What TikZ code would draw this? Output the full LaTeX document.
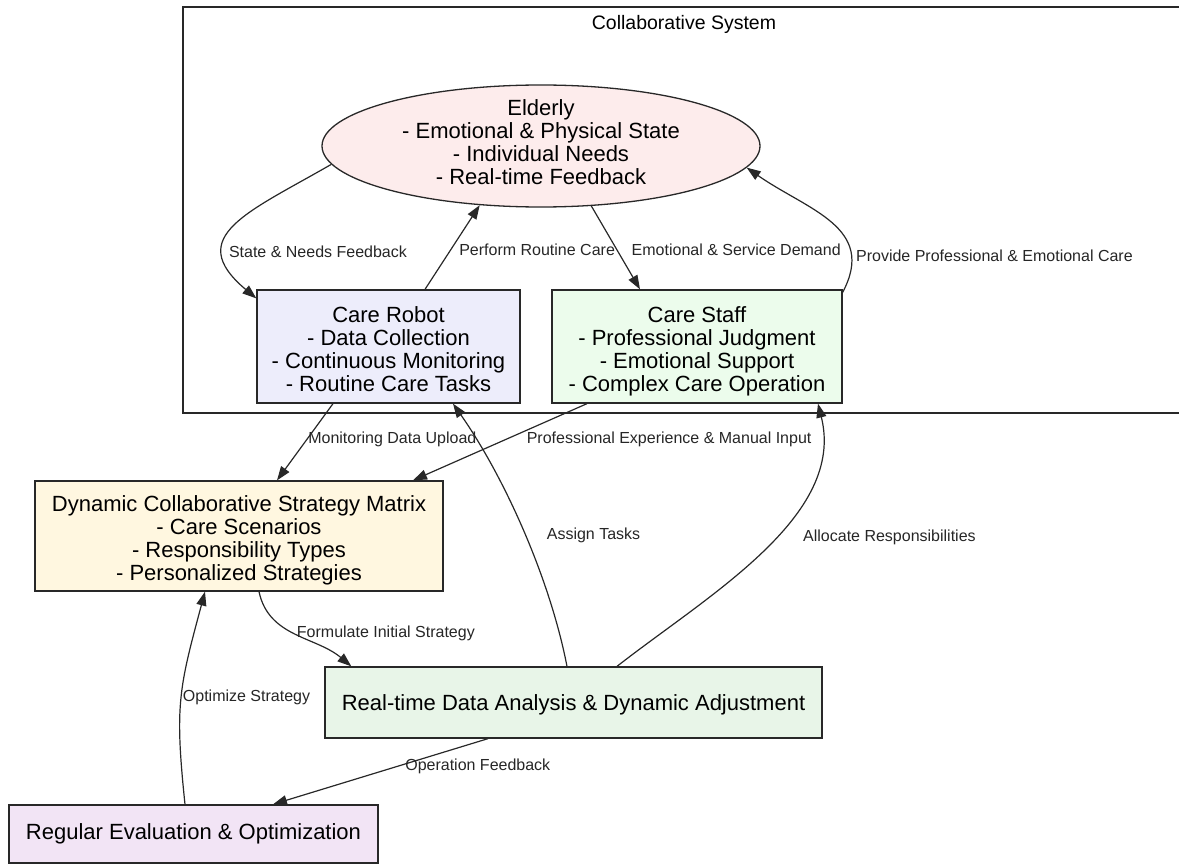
\documentclass[tikz,border=0pt]{standalone}
\usepackage{fontspec}
\setmainfont{Liberation Sans}
\usepackage{tikz}
\usetikzlibrary{arrows.meta}
\usetikzlibrary{shapes.geometric}
\definecolor{elderpink}{RGB}{253,236,236}
\definecolor{robotblue}{RGB}{237,237,251}
\definecolor{staffgreen}{RGB}{236,252,236}
\definecolor{matrixyellow}{RGB}{255,247,224}
\definecolor{adjustgreen}{RGB}{232,245,232}
\definecolor{evalpurple}{RGB}{242,228,245}
\definecolor{edgegray}{RGB}{40,40,40}
\newcommand{\topstrut}[1]{\rule{0pt}{#1}}
\newcommand{\botstrut}[1]{\rule[-#1]{0pt}{#1}}

\begin{document}
\begin{tikzpicture}[x=1pt,y=-1pt,
		box/.style={draw=edgegray,line width=1.3pt,align=center,inner sep=0pt,font=\fontsize{22}{23}\selectfont},
		lbl/.style={font=\fontsize{16}{18}\selectfont,inner sep=0pt,anchor=west,text=black!85},
		arr/.style={line width=1.2pt,edgegray,-{Triangle[length=14pt,width=10pt]}}]
				\clip (0,0) rectangle (1179,864);
				\draw[line width=1.3pt,edgegray] (183,7) rectangle (1210,413);
				\node[font=\fontsize{19.5}{21}\selectfont] (syslabel) at (684,24) {Collaborative System};
				\node[box,ellipse,fill=elderpink,minimum width=438pt,minimum height=122pt,inner ysep=-8pt] (eld) at (541,146)
					{Elderly\\- Emotional \& Physical State\\- Individual Needs\\- Real-time Feedback\botstrut{8pt}};
				\node[box,fill=robotblue,minimum width=263pt,minimum height=113pt] (robot) at (388.5,346.5)
					{\topstrut{22pt}Care Robot\\- Data Collection\\- Continuous Monitoring\\- Routine Care Tasks};
				\node[box,fill=staffgreen,minimum width=290pt,minimum height=113pt] (staff) at (697,346.5)
					{\topstrut{26pt}Care Staff\\- Professional Judgment\\- Emotional Support\\- Complex Care Operation};
				\node[box,fill=matrixyellow,minimum width=408pt,minimum height=110pt] (matrix) at (239,536)
					{\topstrut{24pt}Dynamic Collaborative Strategy Matrix\\- Care Scenarios\\- Responsibility Types\\- Personalized Strategies};
				\node[box,fill=adjustgreen,minimum width=497pt,minimum height=71pt] (adjust) at (573.5,702.5)
					{\topstrut{20pt}Real-time Data Analysis \& Dynamic Adjustment};
				\node[box,fill=evalpurple,minimum width=369pt,minimum height=58pt] (evalopt) at (193.5,834)
					{Regular Evaluation \& Optimization};
				\draw[arr] (eld.185) to[out=210,in=140,looseness=1.6] node[lbl,pos=0.7,xshift=4pt] {State \& Needs Feedback} (robot.160);
				\draw[arr] ([xshift=36.5pt]robot.north) -- node[lbl,pos=0.47,xshift=8pt] {Perform Routine Care} (eld.224);
				\draw[arr] (eld.310) -- node[lbl,pos=0.53,xshift=14pt] {Emotional \& Service Demand} ([xshift=-57pt]staff.north);
				\draw[arr] ([yshift=-3pt]staff.north east) to[out=62,in=325,looseness=1.2] node[lbl,pos=0.22,xshift=4pt] {Provide Professional \& Emotional Care} (eld.354);
				\draw[arr] ([xshift=-55.5pt]robot.south) -- node[lbl,pos=0.47,xshift=1pt] {Monitoring Data Upload} ([xshift=38pt]matrix.north);
				\draw[arr] ([xshift=-110pt]staff.south) -- node[lbl,pos=0.47,xshift=21pt] {Professional Experience \& Manual Input} ([xshift=174pt]matrix.north);
				\draw[arr] ([xshift=-6.5pt]adjust.north) to[out=101,in=-55,looseness=0.8] node[lbl,pos=0.48,xshift=21pt] {Assign Tasks} ([xshift=64.5pt]robot.south);
				\draw[arr] ([xshift=43.5pt]adjust.north) to[out=38,in=-76,looseness=0.9] node[lbl,pos=0.55,xshift=28pt] {Allocate Responsibilities} ([xshift=121pt]staff.south);
				\draw[arr] ([xshift=20pt]matrix.south) to[out=-78,in=140] node[lbl,pos=0.47,xshift=4pt] {Formulate Initial Strategy} ([xshift=27pt]adjust.north west);
				\draw[arr] ([xshift=-85.5pt]adjust.south) -- node[lbl,pos=0.42,xshift=7pt] {Operation Feedback} ([xshift=79.5pt]evalopt.north);
				\draw[arr] ([xshift=-8.5pt]evalopt.north) to[out=96,in=255,looseness=1.2] node[lbl,pos=0.5,xshift=1pt] {Optimize Strategy} ([xshift=-34pt]matrix.south);
			\end{tikzpicture}
\end{document}
